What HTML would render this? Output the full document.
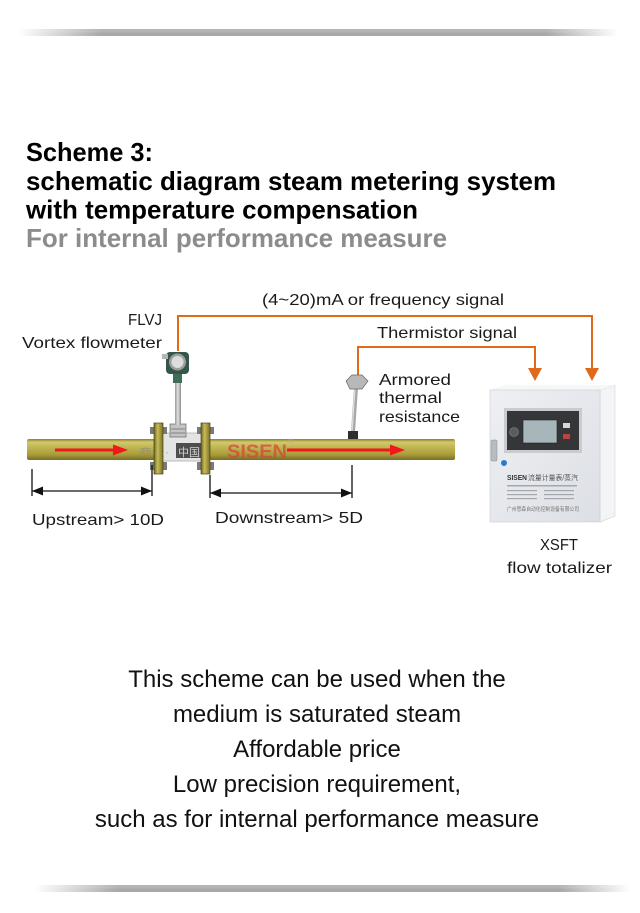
<!DOCTYPE html>
<html><head><meta charset="utf-8"><style>
html,body{margin:0;padding:0;background:#fff;}
svg{display:block;}
text{font-family:"Liberation Sans","Noto Sans CJK SC",sans-serif;}
</style></head><body>
<svg width="640" height="913" viewBox="0 0 640 913" xmlns="http://www.w3.org/2000/svg">
<defs>
<linearGradient id="fadeT" x1="0" y1="0" x2="1" y2="0">
<stop offset="0" stop-color="#b4b4b4" stop-opacity="0"/>
<stop offset="0.14" stop-color="#b4b4b4" stop-opacity="1"/>
<stop offset="0.88" stop-color="#b4b4b4" stop-opacity="1"/>
<stop offset="1" stop-color="#b4b4b4" stop-opacity="0"/>
</linearGradient>
<linearGradient id="fadeT2" x1="0" y1="0" x2="1" y2="0">
<stop offset="0" stop-color="#a8a8a8" stop-opacity="0"/>
<stop offset="0.14" stop-color="#a8a8a8" stop-opacity="1"/>
<stop offset="0.88" stop-color="#a8a8a8" stop-opacity="1"/>
<stop offset="1" stop-color="#a8a8a8" stop-opacity="0"/>
</linearGradient>
<linearGradient id="pipe" x1="0" y1="0" x2="0" y2="1">
<stop offset="0" stop-color="#8a8030"/>
<stop offset="0.15" stop-color="#d2c86c"/>
<stop offset="0.4" stop-color="#c0b552"/>
<stop offset="0.75" stop-color="#a89c3a"/>
<stop offset="1" stop-color="#776d22"/>
</linearGradient>
<linearGradient id="flange" x1="0" y1="0" x2="1" y2="0">
<stop offset="0" stop-color="#6f6620"/>
<stop offset="0.4" stop-color="#c7bc58"/>
<stop offset="1" stop-color="#7a7026"/>
</linearGradient>
<linearGradient id="stem" x1="0" y1="0" x2="1" y2="0">
<stop offset="0" stop-color="#9a9a9a"/>
<stop offset="0.5" stop-color="#e2e2e2"/>
<stop offset="1" stop-color="#8a8a8a"/>
</linearGradient>
<linearGradient id="boxf" x1="0" y1="0" x2="1" y2="1">
<stop offset="0" stop-color="#eef0f3"/>
<stop offset="1" stop-color="#dcdfe4"/>
</linearGradient>
</defs>

<!-- top shadow line -->
<rect x="18" y="29" width="600" height="3.5" fill="url(#fadeT)"/>
<rect x="18" y="32.5" width="600" height="3.5" fill="url(#fadeT2)"/>

<!-- titles -->
<text x="26" y="161" font-size="26" font-weight="bold" fill="#000" textLength="127" lengthAdjust="spacingAndGlyphs">Scheme 3:</text>
<text x="26" y="190" font-size="26" font-weight="bold" fill="#000" textLength="530" lengthAdjust="spacingAndGlyphs">schematic diagram steam metering system</text>
<text x="26" y="218.5" font-size="26" font-weight="bold" fill="#000" textLength="392" lengthAdjust="spacingAndGlyphs">with temperature compensation</text>
<text x="26" y="247" font-size="26" font-weight="bold" fill="#8c8c8c" textLength="421" lengthAdjust="spacingAndGlyphs">For internal performance measure</text>

<!-- labels -->
<g fill="#1a1a1a" font-size="16">
<text x="262" y="305" textLength="242" lengthAdjust="spacingAndGlyphs">(4~20)mA or frequency signal</text>
<text x="128" y="325" textLength="34" lengthAdjust="spacingAndGlyphs">FLVJ</text>
<text x="22" y="348" textLength="140" lengthAdjust="spacingAndGlyphs">Vortex flowmeter</text>
<text x="377" y="338" textLength="140" lengthAdjust="spacingAndGlyphs">Thermistor signal</text>
<text x="379" y="385" textLength="72" lengthAdjust="spacingAndGlyphs">Armored</text>
<text x="379" y="403" textLength="63" lengthAdjust="spacingAndGlyphs">thermal</text>
<text x="379" y="422" textLength="81" lengthAdjust="spacingAndGlyphs">resistance</text>
<text x="32" y="525" textLength="132" lengthAdjust="spacingAndGlyphs">Upstream&gt; 10D</text>
<text x="215" y="523" textLength="148" lengthAdjust="spacingAndGlyphs">Downstream&gt; 5D</text>
<text x="540" y="550" textLength="38" lengthAdjust="spacingAndGlyphs">XSFT</text>
<text x="507" y="573" textLength="105" lengthAdjust="spacingAndGlyphs">flow totalizer</text>
</g>

<!-- orange signal lines -->
<g fill="none" stroke="#e06a1c" stroke-width="2">
<path d="M178,351 V316 H592 V369"/>
<path d="M358,375 V347 H535 V369"/>
</g>
<polygon points="585,368 599,368 592,381" fill="#e06a1c"/>
<polygon points="528,368 542,368 535,381" fill="#e06a1c"/>

<!-- pipe -->
<rect x="27" y="439" width="428" height="21" rx="2" fill="url(#pipe)"/>
<!-- red flow arrows -->
<line x1="55" y1="450" x2="115" y2="450" stroke="#f01818" stroke-width="3"/>
<polygon points="113,444.5 128,450 113,455.5" fill="#f01818"/>
<line x1="287" y1="450" x2="392" y2="450" stroke="#f01818" stroke-width="3"/>
<polygon points="390,444.5 405,450 390,455.5" fill="#f01818"/>

<!-- meter body -->
<rect x="160" y="433" width="46" height="28" fill="#e4e4e4" stroke="#999" stroke-width="0.6"/>
<rect x="176" y="443" width="27" height="15" fill="#4d4d4d"/>
<text x="178" y="456" font-size="11" fill="#cfcfcf" textLength="22" lengthAdjust="spacingAndGlyphs">中国</text>
<text x="139" y="456" font-size="11" fill="#8a8a7a" opacity="0.7" textLength="30" lengthAdjust="spacingAndGlyphs">商录·</text>
<!-- bolts -->
<g fill="#7a7a7a">
<rect x="150" y="427" width="4" height="7"/><rect x="163" y="427" width="4" height="7"/>
<rect x="150" y="462" width="4" height="8"/><rect x="163" y="462" width="4" height="8"/>
<rect x="197" y="427" width="4" height="7"/><rect x="210" y="427" width="4" height="7"/>
<rect x="197" y="462" width="4" height="8"/><rect x="210" y="462" width="4" height="8"/>
</g>
<!-- flanges -->
<rect x="154" y="423" width="9" height="51" fill="url(#flange)" stroke="#4a4418" stroke-width="0.7"/>
<rect x="201" y="423" width="9" height="51" fill="url(#flange)" stroke="#4a4418" stroke-width="0.7"/>

<!-- watermark SISEN -->
<text x="227" y="458" font-size="19" font-weight="bold" fill="#d9443c" opacity="0.72" textLength="60" lengthAdjust="spacingAndGlyphs">SISEN</text>
<circle cx="291" cy="441" r="2" fill="none" stroke="#c8a0a0" stroke-width="0.6"/>

<!-- vortex flowmeter stem & head -->
<rect x="170" y="424" width="16" height="13" fill="#c4c4c4" stroke="#666" stroke-width="0.7"/>
<line x1="171" y1="429" x2="185" y2="429" stroke="#666" stroke-width="0.7"/>
<line x1="171" y1="433" x2="185" y2="433" stroke="#666" stroke-width="0.7"/>
<rect x="175" y="382" width="6" height="43" fill="url(#stem)"/>
<rect x="173" y="372" width="9" height="11" fill="#3f6d58"/>
<rect x="166" y="352" width="23" height="22" rx="4" fill="#2f5a4a"/>
<rect x="162" y="354" width="6" height="5" fill="#b5b5b5"/>
<circle cx="177.5" cy="362" r="9" fill="#9aa0a0" stroke="#4a4a4a" stroke-width="1"/>
<circle cx="177.5" cy="362" r="6" fill="#dcdede"/>

<!-- thermal resistance probe -->
<line x1="356" y1="388" x2="353" y2="432" stroke="#a8a8a8" stroke-width="4"/>
<line x1="355" y1="388" x2="352" y2="432" stroke="#e0e0e0" stroke-width="1.2"/>
<polygon points="346,381 352,375 362,375 368,381 362,389 350,389" fill="#b8b8b8" stroke="#666" stroke-width="0.7"/>
<rect x="348" y="431" width="10" height="8" fill="#2e2e2e"/>

<!-- dimension lines -->
<g stroke="#111" stroke-width="1.3">
<line x1="32" y1="469" x2="32" y2="496"/>
<line x1="152" y1="465" x2="152" y2="496"/>
<line x1="32" y1="491" x2="152" y2="491"/>
<line x1="210" y1="475" x2="210" y2="498"/>
<line x1="352" y1="465" x2="352" y2="498"/>
<line x1="210" y1="493" x2="352" y2="493"/>
</g>
<g fill="#111">
<polygon points="32,491 43,486.5 43,495.5"/>
<polygon points="152,491 141,486.5 141,495.5"/>
<polygon points="210,493 221,488.5 221,497.5"/>
<polygon points="352,493 341,488.5 341,497.5"/>
</g>

<!-- totalizer box -->
<polygon points="600,390 615,385 615,516 600,522" fill="#f3f4f6" stroke="#d0d3d8" stroke-width="0.6"/>
<polygon points="490,390 505,385 615,385 600,390" fill="#f6f7f8"/>
<rect x="490" y="390" width="110" height="132" fill="url(#boxf)" stroke="#c8ccd2" stroke-width="0.6"/>
<rect x="504" y="408" width="78" height="45" fill="#c9cbcf"/>
<rect x="507" y="411" width="72" height="39" fill="#343638"/>
<rect x="523" y="420" width="34" height="23" fill="#a6b6ba" stroke="#222" stroke-width="0.6"/>
<circle cx="514" cy="432" r="4.5" fill="#5a5c5e" stroke="#888" stroke-width="0.6"/>
<rect x="563" y="423" width="7" height="5" fill="#d8d8d8"/>
<rect x="563" y="434" width="7" height="5" fill="#c04040"/>
<rect x="491" y="440" width="6" height="21" rx="1" fill="#b8bcc0" stroke="#8a8e92" stroke-width="0.5"/>
<circle cx="504" cy="463" r="3" fill="#2a7bd0"/>
<text x="507" y="480" font-size="7" font-weight="bold" fill="#333" textLength="20" lengthAdjust="spacingAndGlyphs">SISEN</text>
<text x="528" y="480" font-size="7" fill="#555" textLength="50" lengthAdjust="spacingAndGlyphs">流量计量表/蒸汽</text>
<g fill="#a4a8ae">
<rect x="507" y="485" width="70" height="1.5"/>
<rect x="507" y="490" width="30" height="1.2"/><rect x="544" y="490" width="30" height="1.2"/>
<rect x="507" y="494" width="30" height="1.2"/><rect x="544" y="494" width="30" height="1.2"/>
<rect x="507" y="498" width="30" height="1.2"/><rect x="544" y="498" width="30" height="1.2"/>
</g>
<text x="507" y="511" font-size="5.5" fill="#777" textLength="72" lengthAdjust="spacingAndGlyphs">广州思森自动化控制设备有限公司</text>

<!-- bottom text -->
<g font-size="24" fill="#111" text-anchor="middle">
<text x="317" y="687">This scheme can be used when the</text>
<text x="317" y="722">medium is saturated steam</text>
<text x="317" y="757">Affordable price</text>
<text x="317" y="792">Low precision requirement,</text>
<text x="317" y="827">such as for internal performance measure</text>
</g>

<!-- bottom shadow line -->
<rect x="35" y="885" width="595" height="3.5" fill="url(#fadeT)"/>
<rect x="35" y="888.5" width="595" height="3.5" fill="url(#fadeT2)"/>
</svg>
</body></html>
